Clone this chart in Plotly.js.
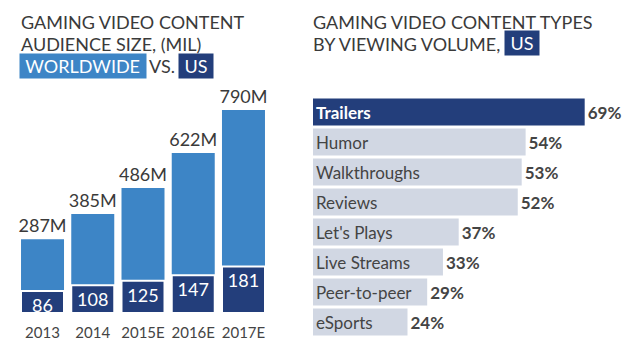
<!DOCTYPE html>
<html><head><meta charset="utf-8">
<script src="https://cdn.plot.ly/plotly-3.0.1.min.js"></script>
<style>html,body{margin:0;padding:0;background:#fff}#chart{width:640px;height:353px}</style>
</head><body><div id="chart"></div>
<script>
// ---- data ----
const years = ['2013', '2014', '2015E', '2016E', '2017E'];
const worldwide = [287, 385, 486, 622, 790];
const usAudience = [86, 108, 125, 147, 181];
const contentTypes = ['Trailers', 'Humor', 'Walkthroughs', 'Reviews', "Let's Plays", 'Live Streams', 'Peer-to-peer', 'eSports'];
const shares = [69, 54, 53, 52, 37, 33, 29, 24];

// ---- style ----
const LIGHT = '#3d85c6', NAVY = '#233e7b', GRAY = '#d1d7e3', TXT = '#3a3a3a';
const W = 640, H = 353;
const px = x => x / W, py = y => 1 - y / H;
const FONT = 'Lato, "Open Sans", sans-serif';
const SP = '\u00a0';

const traces = [
  {type: 'bar', x: years, y: worldwide, xaxis: 'x', yaxis: 'y', width: 0.856,
   marker: {color: LIGHT}, texttemplate: '%{y}M', textposition: 'outside', textangle: 0,
   outsidetextfont: {size: 18, color: TXT, family: FONT}, cliponaxis: false, constraintext: 'none', hoverinfo: 'skip'},
  {type: 'bar', x: years, y: usAudience, xaxis: 'x', yaxis: 'y', width: 0.856,
   marker: {color: NAVY, line: {color: '#fff', width: 2}}, texttemplate: '%{y}', textposition: 'inside', textangle: 0,
   insidetextfont: {size: 18, color: '#fff', family: FONT}, constraintext: 'none', hoverinfo: 'skip'},
  {type: 'bar', orientation: 'h', y: contentTypes, x: shares, xaxis: 'x2', yaxis: 'y2', width: 0.9,
   marker: {color: contentTypes.map((c, i) => i === 0 ? NAVY : GRAY)},
   text: contentTypes.map((c, i) => i === 0 ? '<b>' + c + '</b>' : c),
   textposition: 'inside', insidetextanchor: 'start', constraintext: 'none', textangle: 0,
   insidetextfont: {size: 17, family: FONT, color: contentTypes.map((c, i) => i === 0 ? '#fff' : '#444')},
   hoverinfo: 'skip'},
  {type: 'bar', orientation: 'h', y: contentTypes, x: shares, xaxis: 'x2', yaxis: 'y2', width: 0.9,
   marker: {color: 'rgba(0,0,0,0)'}, texttemplate: '<b>%{x}%</b>', textposition: 'outside', textangle: 0,
   outsidetextfont: {size: 17, family: FONT, color: '#444'}, cliponaxis: false, constraintext: 'none', hoverinfo: 'skip'}
];

const ann = (text, x, y, opts = {}) => Object.assign({
  text, x: px(x), y: py(y), xref: 'paper', yref: 'paper', xanchor: 'left', yanchor: 'middle',
  showarrow: false, font: {size: 18, color: TXT, family: FONT}, align: 'left'}, opts);

const annotations = [
  ann('GAMING VIDEO CONTENT', 19, 22),
  ann('AUDIENCE SIZE, (MIL)', 19, 44),
  ann(SP + 'WORLDWIDE' + SP, 19, 66, {bgcolor: LIGHT, font: {size: 18, color: '#fff', family: FONT}, borderpad: 1}),
  ann('VS.', 147, 66),
  ann(SP + 'US' + SP, 178, 66, {bgcolor: NAVY, font: {size: 18, color: '#fff', family: FONT}, borderpad: 1}),
  ann('GAMING VIDEO CONTENT TYPES', 311, 22),
  ann('BY VIEWING VOLUME,', 311, 44),
  ann(SP + 'US' + SP, 504, 43, {bgcolor: NAVY, font: {size: 18, color: '#fff', family: FONT}, borderpad: 1})
];

const layout = {
  width: W, height: H, margin: {l: 0, r: 0, t: 0, b: 0},
  paper_bgcolor: '#fff', plot_bgcolor: 'rgba(0,0,0,0)',
  showlegend: false, barmode: 'overlay',
  font: {family: FONT, color: TXT},
  xaxis: {domain: [px(17.4), px(268.6)], anchor: 'y', type: 'category', showline: false, ticks: '',
          ticklabelstandoff: 9,
          showgrid: false, zeroline: false, tickfont: {size: 15, color: '#444', family: FONT}, fixedrange: true},
  yaxis: {domain: [py(313), py(94.5)], anchor: 'x', range: [0, 850], visible: false, showgrid: false, fixedrange: true},
  xaxis2: {domain: [px(313), px(628)], anchor: 'y2', range: [0, 80], visible: false, fixedrange: true},
  yaxis2: {domain: [py(337), py(97)], anchor: 'x2', type: 'category', autorange: 'reversed', visible: false, fixedrange: true},
  annotations
};

Plotly.newPlot('chart', traces, layout, {staticPlot: true, displayModeBar: false});
</script></body></html>
